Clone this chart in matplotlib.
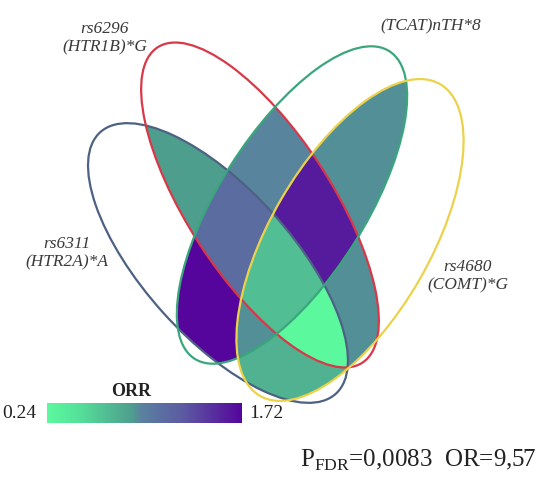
import numpy as np
import matplotlib.pyplot as plt
from matplotlib.patches import Ellipse
from matplotlib.colors import LinearSegmentedColormap, Normalize

# sets and their labels
set_names = ["A", "B", "C", "D"]
set_labels = ["rs6311\n(HTR2A)*A", "rs6296\n(HTR1B)*G", "(TCAT)nTH*8", "rs4680\n(COMT)*G"]

# ORR for each intersection (sets in the key); single sets are not coloured
region_keys = ["AB", "AC", "AD", "BC", "BD", "CD",
               "ABC", "ABD", "ACD", "BCD", "ABCD"]
region_orr = [0.88, 1.72, 0.76, 0.94, 0.92, 0.92,
              1.13, 0.24, 0.92, 1.60, 0.68]

orr_min, orr_max = 0.24, 1.72

# ellipse geometry: centre x, centre y, semi-major, semi-minor, angle (pixel space)
ellipses = {
    "A": (218, 263, 176, 74, 48),
    "B": (260, 205, 188, 72, 57),
    "C": (292, 205, 182, 73, -57.7),
    "D": (350, 240, 180, 80, -60),
}
edge_colors = {"A": "#4d6282", "B": "#d83848", "C": "#3aa67c", "D": "#ecd24a"}

cmap = LinearSegmentedColormap.from_list(
    "orr",
    [(0.0, "#5cf89e"), (0.15, "#55e39a"), (0.44, "#4e9c8e"),
     (0.48, "#5a82a0"), (0.7, "#5c5aa2"), (1.0, "#55059c")])
norm = Normalize(orr_min, orr_max)


def inside(name, X, Y):
    cx, cy, a, b, ang = ellipses[name]
    t = np.deg2rad(ang)
    dx, dy = X - cx, Y - cy
    u = dx * np.cos(t) + dy * np.sin(t)
    v = -dx * np.sin(t) + dy * np.cos(t)
    return (u / a) ** 2 + (v / b) ** 2 <= 1


W, H = 540, 482
fig = plt.figure(figsize=(W / 100, H / 100), dpi=100)
ax = fig.add_axes([0, 0, 1, 1])
ax.set_xlim(0, W)
ax.set_ylim(H, 0)
ax.axis("off")

# fill the intersections on a fine grid
step = 0.5
xs = np.arange(0, W, step) + step / 2
ys = np.arange(0, H, step) + step / 2
X, Y = np.meshgrid(xs, ys)
masks = {n: inside(n, X, Y) for n in set_names}
grid = np.full(X.shape, np.nan)
for key, val in zip(region_keys, region_orr):
    m = np.ones(X.shape, bool)
    for n in set_names:
        m &= masks[n] if n in key else ~masks[n]
    grid[m] = val
ax.imshow(grid, cmap=cmap, norm=norm, extent=(0, W, H, 0),
          interpolation="nearest", zorder=1)

for n in set_names:
    cx, cy, a, b, ang = ellipses[n]
    ax.add_patch(Ellipse((cx, cy), 2 * a, 2 * b, angle=ang, fill=False,
                         ec=edge_colors[n], lw=1.6, zorder=3))

label_font = dict(family="Liberation Serif", style="italic", fontsize=12.5,
                  color="#3a3a3a", ha="center", va="center", linespacing=1.15)
ax.text(67, 253, set_labels[0], **label_font)
ax.text(105, 38, set_labels[1], **label_font)
ax.text(431, 26, set_labels[2], **label_font)
ax.text(468, 276, set_labels[3], **label_font)

# colour bar
cax = fig.add_axes([47 / W, 1 - 423 / H, 195 / W, 20 / H])
cb = fig.colorbar(plt.cm.ScalarMappable(norm=norm, cmap=cmap), cax=cax,
                  orientation="horizontal")
cb.outline.set_visible(False)
cb.set_ticks([])
serif = dict(family="Liberation Serif", color="#222222")
ax.text(131, 391, "ORR", fontsize=13, fontweight="bold", ha="center",
        va="center", **serif)
ax.text(2, 413, f"{orr_min:.2f}", fontsize=14, ha="left", va="center", **serif)
ax.text(249, 413, f"{orr_max:.2f}", fontsize=14, ha="left", va="center", **serif)

ax.text(300, 460, r"P$_{\mathregular{FDR}}$=0,0083  OR=9,57", fontsize=18,
        ha="left", va="center", **serif)

fig.savefig("out.png", dpi=100)
